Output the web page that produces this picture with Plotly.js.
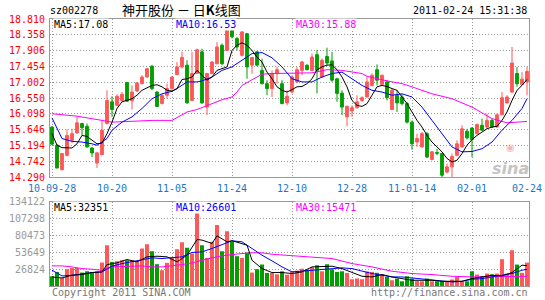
<!DOCTYPE html>
<html><head><meta charset="utf-8">
<script src="https://cdn.plot.ly/plotly-3.0.1.min.js"></script>
<style>html,body{margin:0;padding:0;background:#fff}#chart{width:545px;height:300px}</style>
</head><body><div id="chart"></div>
<script>
// ---- data ----
const openP = [15.72,15.20,14.50,14.91,15.34,15.55,15.82,15.74,15.12,14.69,
14.93,15.82,16.44,16.34,16.48,16.99,16.47,16.75,16.96,17.15,
17.46,16.72,16.39,16.63,16.82,17.22,17.44,17.49,16.48,17.25,
17.87,16.29,17.25,17.53,18.06,17.91,18.51,18.25,17.77,18.39,
17.49,17.87,17.34,16.96,16.82,17.25,16.96,16.41,16.72,17.01,
17.34,17.49,17.34,17.79,17.15,17.74,17.61,17.10,16.69,16.01,
16.18,16.27,16.48,16.58,16.91,17.36,16.94,17.01,16.22,16.63,
16.58,16.39,15.86,15.29,15.15,15.53,14.79,14.99,14.96,14.43,
14.58,14.91,15.15,15.60,15.69,15.53,15.77,15.72,15.91,15.72,
16.07,16.41,16.72,17.25,16.94,17.01];
const highP = [15.74,15.23,14.98,15.65,15.67,16.01,15.84,15.82,15.15,15.01,
15.91,16.77,16.60,16.66,16.72,17.01,16.91,17.01,17.20,17.41,
17.50,16.75,16.66,16.96,17.17,17.58,17.87,17.63,17.87,17.96,
17.96,17.27,17.61,18.15,18.11,18.68,18.53,18.30,18.47,18.41,
17.72,17.90,17.68,17.06,17.34,17.44,17.06,16.77,17.20,17.44,
17.61,17.51,17.82,17.93,17.68,17.99,17.87,17.13,16.77,16.34,
16.34,16.63,16.60,17.15,17.25,17.51,17.22,17.06,16.82,16.77,
16.66,16.44,15.91,15.53,15.58,15.58,15.03,15.10,14.98,14.67,
14.96,15.34,15.77,15.67,15.72,15.82,15.96,16.10,15.96,16.10,
16.72,16.63,18.01,17.44,17.29,17.44];
const lowP = [15.20,14.53,14.48,14.88,15.26,15.53,15.48,15.13,14.86,14.55,
14.91,15.80,16.01,16.31,16.44,16.44,16.22,16.72,16.94,17.13,
16.77,16.29,16.37,16.53,16.79,17.20,17.39,16.39,16.46,17.23,
16.39,16.06,17.23,17.51,17.49,17.90,18.25,17.91,17.74,17.10,
17.25,17.46,16.94,16.63,16.58,16.96,16.37,16.34,16.68,16.98,
17.20,17.34,17.32,16.68,17.13,17.49,17.01,16.44,16.06,15.74,
16.01,16.25,16.44,16.56,16.88,16.91,16.91,16.48,16.20,16.15,
16.34,15.82,15.07,15.15,15.13,14.84,14.77,14.91,14.29,14.39,
14.29,14.88,15.13,15.36,14.86,15.51,15.61,15.67,15.70,15.70,
16.06,16.39,16.69,16.87,16.94,16.63];
const closeP = [15.23,14.55,14.96,15.48,15.53,15.84,15.70,15.15,14.98,14.98,
15.63,16.48,16.22,16.60,16.66,16.46,16.72,16.98,17.15,17.39,
16.82,16.31,16.62,16.82,17.15,17.44,17.71,16.41,17.25,17.93,
16.41,17.25,17.58,18.01,17.53,18.49,18.30,18.01,18.44,17.44,
17.71,17.49,16.96,16.82,17.25,17.36,16.39,16.60,17.15,17.36,
17.58,17.36,17.72,17.34,17.63,17.55,17.06,16.68,16.29,16.31,
16.27,16.44,16.56,17.01,17.20,17.06,17.20,16.56,16.77,16.41,
16.39,15.86,15.24,15.39,15.53,14.86,15.01,14.97,14.34,14.58,
14.88,15.24,15.67,15.41,15.36,15.79,15.63,15.91,15.72,16.07,
16.56,16.58,17.55,16.96,17.09,17.31];
const volume = [15500,22400,12800,26700,28700,28700,21400,23500,22400,23500,
37400,65000,38300,39400,41000,41000,41000,39400,59700,66600,
55400,34700,25100,36800,45300,58600,69800,60700,51700,134122,
65000,44700,70300,96900,55400,87300,70300,47400,44700,53300,
21400,26700,34200,20800,20800,18600,23400,17900,23400,24400,
27500,25600,30000,33000,23400,34600,26500,22400,23400,20800,
10700,12000,10700,23100,22400,21000,18200,14400,9100,11800,
7500,15500,11800,7800,7500,11800,7500,7500,7500,7500,
10400,14400,6400,7500,23400,18200,15500,19800,18600,19800,
42600,19800,57000,34100,21000,37300];

// moving-average lines (candle index, value)
const ma5Idx = [0,1,2,4,5,6,7,8,9,10,11,12,13,14,15,16,17,18,20,21,22,23,24,25,26,27,28,29,30,31,32,33,34,35,36,37,38,39,40,41,42,43,44,45,46,47,48,49,50,51,52,53,54,55,56,57,58,59,60,61,62,63,64,65,66,67,68,69,70,71,72,73,74,75,76,77,78,79,80,81,82,83,84,85,86,87,88,89,90,91,92,93,94,95];
const ma5Val = [15.53,15.20,15.13,15.12,15.24,15.48,15.45,15.34,15.24,15.26,15.53,15.86,16.25,16.44,16.48,16.53,16.63,16.77,16.91,16.93,16.87,16.77,16.75,16.82,17.08,17.10,17.15,17.34,17.20,17.06,17.15,17.34,17.39,17.44,17.91,18.06,18.13,18.06,17.91,17.72,17.58,17.29,17.10,16.87,16.77,16.72,16.79,16.87,16.88,16.96,17.10,17.36,17.44,17.49,17.50,17.36,17.15,16.87,16.48,16.34,16.31,16.39,16.63,16.87,16.91,16.88,16.82,16.77,16.58,16.39,16.15,15.91,15.72,15.48,15.29,15.15,15.01,14.82,14.72,14.77,14.96,15.20,15.36,15.48,15.58,15.67,15.72,15.74,15.91,16.15,16.48,16.77,16.91,17.08];
const ma10Idx = [0,2,4,6,8,9,11,12,14,16,18,20,22,24,25,27,29,30,32,34,36,38,40,42,44,46,48,50,52,54,56,58,60,62,64,66,68,70,72,74,76,78,80,82,84,86,88,90,92,94,95];
const ma10Val = [15.98,15.39,15.31,15.29,15.24,15.20,15.39,15.63,15.86,16.01,16.25,16.53,16.67,16.74,16.82,17.01,17.01,17.04,17.15,17.34,17.44,17.63,17.82,17.85,17.70,17.44,17.10,17.01,17.01,17.15,17.25,17.29,17.10,16.91,16.77,16.72,16.63,16.67,16.58,16.29,15.91,15.53,15.15,15.01,15.02,15.10,15.29,15.63,15.91,16.25,16.53];
const ma30Idx = [0,5,10,12,17,20,24,25,27,29,31,33,34,36,37,38,40,41,42,44,48,52,55,58,62,63,67,70,72,76,80,84,88,91,95];
const ma30Val = [16.10,16.03,15.91,15.86,15.89,15.91,15.91,15.99,16.15,16.22,16.34,16.44,16.50,16.58,16.72,16.91,17.06,17.15,17.23,17.25,17.25,17.27,17.36,17.34,17.25,17.17,17.04,16.96,16.87,16.67,16.53,16.29,15.96,15.84,15.88];

const vma5Idx = [0,2,4,6,8,10,11,13,15,17,19,21,23,25,27,29,30,32,33,35,36,39,40,42,44,46,48,50,52,54,56,58,60,62,64,66,68,70,72,74,76,78,80,82,84,86,88,90,92,94,95];
const vma5Val = [14400,12800,17100,18200,21400,22400,34100,36800,42100,38400,46400,47400,46400,38400,49000,74000,73000,67700,79900,70300,72000,65000,41000,27700,21400,21400,19800,22400,30400,30400,31500,27700,21400,15500,14400,18200,14400,11800,9100,9100,9100,7500,7500,7500,11800,14400,17100,16000,21400,33100,32351];
const vma10Idx = [0,2,4,6,8,10,12,14,16,18,20,22,24,26,28,30,32,34,36,38,40,42,44,46,48,50,52,54,56,58,60,62,64,66,68,70,72,74,76,78,80,82,84,86,88,90,92,94,95];
const vma10Val = [25100,16000,17100,19800,21400,22400,31500,35700,38400,41000,44800,43700,44800,46400,53300,54300,59700,66100,71900,70300,59700,49000,40000,30400,22400,23500,25100,26700,27700,28800,27700,23500,19800,17100,14400,14400,12800,10700,9100,7500,6400,7500,10700,11800,14400,17100,19800,25100,26601];
const vma30Idx = [0,2,4,6,8,10,12,14,16,18,20,22,24,26,28,30,32,34,36,38,40,42,44,48,52,56,60,64,68,72,76,80,84,88,92,95];
const vma30Val = [32000,32000,30400,27700,26700,25100,30400,31500,31500,32000,30400,30400,32000,34100,36800,41000,44800,48000,50100,51700,52800,52800,50500,48000,45300,43700,35700,30400,23500,19800,18200,15500,14400,14400,15500,15471];

const priceTicks = [14.290,14.742,15.194,15.646,16.098,16.550,17.002,17.454,17.906,18.358,18.810];
const volTicks = [26824,53649,80473,107298,134122];
const gridIdx = [0,12,24,36,48,60,72,84];
const dateLabels = ['10-09-28','10-20','11-05','11-24','12-10','12-28','11-01-14','02-01','02-24'];
const dateLabelIdx = [0,12,24,36,48,60,72,84,95];

const stockCode = 'sz002278';
const chartTitle = '神开股份 － 日<b>K</b>线图';
const stamp = '2011-02-24 15:31:38';

// ---- styling ----
const MONO = 'DejaVu Sans Mono, monospace';
const RED = '#ff5858', GREEN = '#009f00', BLUE = '#0000ff', MAG = '#ff00ff', BLK = '#000000';
const GRID = '#9a9a9a', FRAME = '#999999';

const idx = openP.map((_, i) => i);
const volColors = closeP.map((c, i) => c >= openP[i] ? RED : GREEN);

const traces = [
  {type:'candlestick', x: idx, open: openP, high: highP, low: lowP, close: closeP,
   xaxis:'x', yaxis:'y', whiskerwidth:0, hoverinfo:'none',
   increasing:{line:{color:RED,width:1}, fillcolor:RED},
   decreasing:{line:{color:GREEN,width:1}, fillcolor:GREEN}},
  {type:'scatter', mode:'lines', x: ma30Idx, y: ma30Val, xaxis:'x', yaxis:'y', line:{color:MAG,width:1}, hoverinfo:'none'},
  {type:'scatter', mode:'lines', x: ma10Idx, y: ma10Val, xaxis:'x', yaxis:'y', line:{color:BLUE,width:1}, hoverinfo:'none'},
  {type:'scatter', mode:'lines', x: ma5Idx, y: ma5Val, xaxis:'x', yaxis:'y', line:{color:BLK,width:1}, hoverinfo:'none'},
  {type:'bar', x: idx, y: volume, xaxis:'x2', yaxis:'y2', width:0.8, marker:{color: volColors, line:{width:0}}, hoverinfo:'none'},
  {type:'scatter', mode:'lines', x: vma30Idx, y: vma30Val, xaxis:'x2', yaxis:'y2', line:{color:MAG,width:1}, hoverinfo:'none'},
  {type:'scatter', mode:'lines', x: vma10Idx, y: vma10Val, xaxis:'x2', yaxis:'y2', line:{color:BLUE,width:1}, hoverinfo:'none'},
  {type:'scatter', mode:'lines', x: vma5Idx, y: vma5Val, xaxis:'x2', yaxis:'y2', line:{color:BLK,width:1}, hoverinfo:'none'}
];

const xCommon = {range:[-0.4, 95.4], tickvals: gridIdx, showticklabels:false, ticks:'',
  showgrid:true, gridcolor:GRID, griddash:'1px,2px', gridwidth:1, zeroline:false,
  showline:true, linecolor:FRAME, linewidth:1, mirror:true, fixedrange:true, automargin:false};
const yCommon = {showgrid:true, gridcolor:GRID, griddash:'1px,2px', gridwidth:1, zeroline:false,
  showline:true, linecolor:FRAME, linewidth:1, mirror:true, ticks:'', fixedrange:true, automargin:false,
  ticklabelstandoff:2};

const last = a => a[a.length - 1];
const ann = [];
const A = (text, x, y, color, xanchor, extra) => ann.push(Object.assign({text, x, y, xref:'paper', yref:'paper',
  xanchor: xanchor || 'left', yanchor:'middle', showarrow:false, font:{family:MONO, size:10, color}}, extra || {}));

// watermark (drawn first so other text sits above it)
ann.push({text:'◉', x:0.962, y:0.518, xref:'paper', yref:'paper', xanchor:'center', yanchor:'middle',
  showarrow:false, font:{family:'DejaVu Sans, sans-serif', size:10, color:'#f2b8b8'}});
ann.push({text:'<i><b>sina</b></i>', x:0.962, y:0.44, xref:'paper', yref:'paper', xanchor:'center', yanchor:'middle',
  showarrow:false, font:{family:'DejaVu Sans, sans-serif', size:16, color:'#c4c4c4'}});
// header
A(stockCode, -0.004, 1.030, '#000');
ann.push({text: chartTitle, x: 0.146, y: 1.034, xref:'paper', yref:'paper', xanchor:'left', yanchor:'middle',
  showarrow:false, font:{family:'Noto Sans CJK SC, sans-serif', size:13, color:'#000'}});
A(stamp, 1.0, 1.030, '#000', 'right');
// price MA legend
const bg = {bgcolor:'#ffffff', borderpad:0};
A('MA5:' + last(ma5Val).toFixed(2), 0.0063, 0.979, BLK, 'left', bg);
A('MA10:' + last(ma10Val).toFixed(2), 0.261, 0.979, BLUE, 'left', bg);
A('MA30:' + last(ma30Val).toFixed(2), 0.5115, 0.979, MAG, 'left', bg);
// volume MA legend
A('MA5:' + last(vma5Val), 0.0063, 0.294, BLK, 'left', bg);
A('MA10:' + last(vma10Val), 0.261, 0.294, BLUE, 'left', bg);
A('MA30:' + last(vma30Val), 0.5115, 0.294, MAG, 'left', bg);
// date labels
dateLabels.forEach((t, k) => ann.push({text:t, x: dateLabelIdx[k], y:0.367, xref:'x', yref:'paper',
  xanchor:'center', yanchor:'middle', showarrow:false, font:{family:MONO, size:10, color:'#1a78cc'}}));
// footer
A('Copyright 2011 SINA.COM', 0, -0.026, '#777');
A('http://finance.sina.com.cn', 1.002, -0.026, '#777', 'right');

const layout = {
  width:545, height:300, margin:{l:50, r:16, t:19, b:14}, paper_bgcolor:'#fff', plot_bgcolor:'#fff',
  showlegend:false, boxgap:0.2, bargap:0.2, font:{family:MONO, size:10},
  xaxis: Object.assign({}, xCommon, {domain:[0,1], anchor:'y', rangeslider:{visible:false}}),
  yaxis: Object.assign({}, yCommon, {domain:[0.4082,1], range:[14.29,18.81], tickvals: priceTicks,
    ticktext: priceTicks.map(v => v.toFixed(3)), tickfont:{family:MONO, size:10, color:'#ff0000'}}),
  xaxis2: Object.assign({}, xCommon, {domain:[0,1], anchor:'y2'}),
  yaxis2: Object.assign({}, yCommon, {domain:[0,0.3157], range:[0,134122], tickvals: volTicks,
    ticktext: volTicks.map(String), tickfont:{family:MONO, size:10, color:'#999'}}),
  annotations: ann
};

Plotly.newPlot('chart', traces, layout, {staticPlot:true, displayModeBar:false});
</script></body></html>
